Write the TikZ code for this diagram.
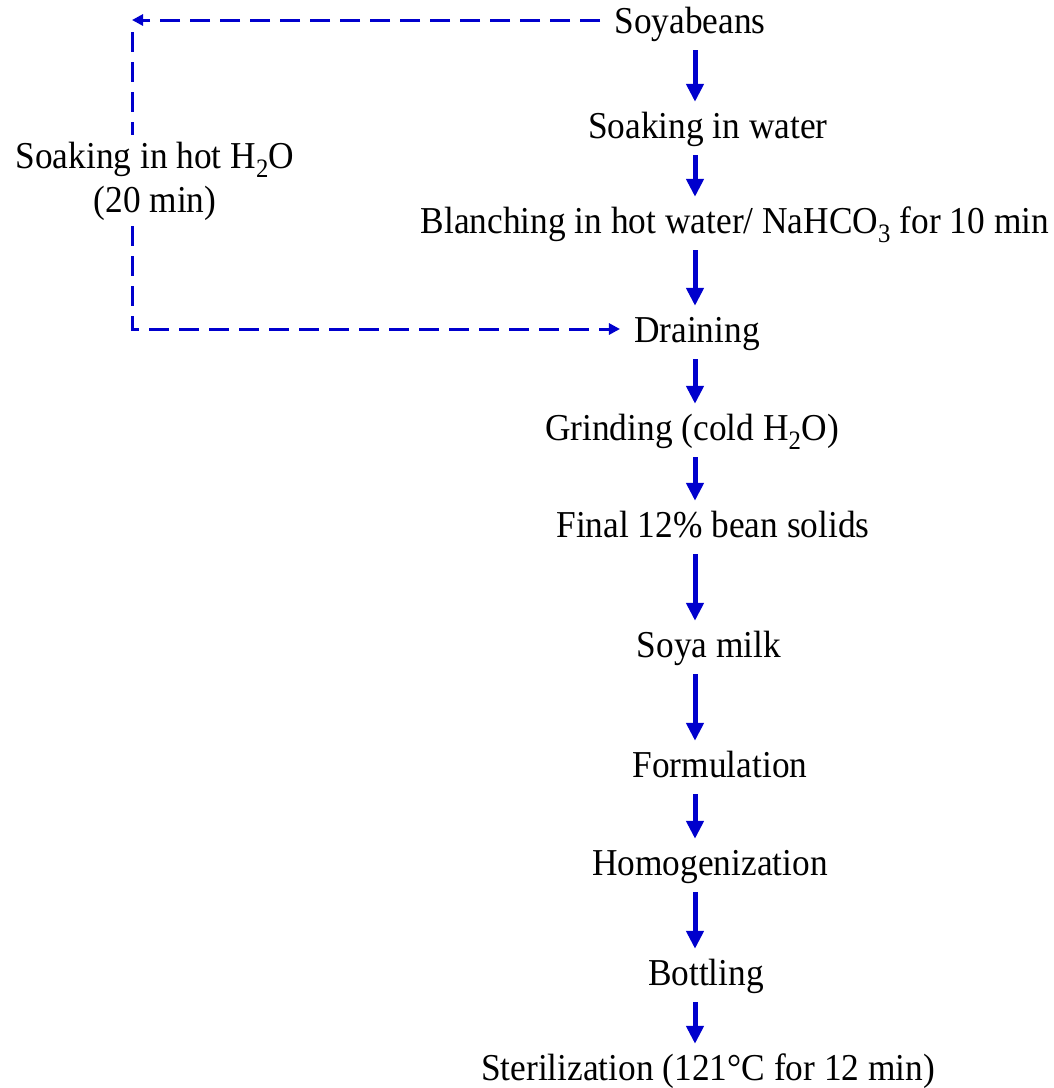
\documentclass[tikz,border=0pt]{standalone}
\usepackage{fontspec}
\setmainfont[FakeStretch=0.93]{Liberation Serif}
\usetikzlibrary{arrows.meta,positioning,calc}
\definecolor{flow blue}{RGB}{0,0,205}

\begin{document}
\begin{tikzpicture}[x=1pt,y=1pt,
  step box/.style={font=\fontsize{38}{44}\selectfont,anchor=base,inner sep=6pt,text height=27pt,text depth=8pt},
  flow/.style={draw=flow blue,line width=5pt,-{Triangle[length=18pt,width=17pt]},shorten <=3pt,shorten >=3pt},
  feed/.style={draw=flow blue,line width=3pt,dash pattern=on 20pt off 10pt},
  feed tip/.style={feed,-{Triangle[length=11pt,width=11pt]}},
]
  \useasboundingbox (0,0) rectangle (1054,-1088);

  \node[step box] (soy) at (690,-33) {Soyabeans};
  \node[step box] (soak) at (708,-138) {Soaking in water};
  \node[step box] (blanch) at (735,-233) {Blanching in hot water/ NaHCO\textsubscript{3} for 10 min};
  \node[step box] (drain) at (697,-342) {Draining};
  \node[step box] (grind) at (692,-440) {Grinding (cold H\textsubscript{2}O)};
  \node[step box] (solids) at (713,-537) {Final 12\% bean solids};
  \node[step box] (milk) at (709,-657) {Soya milk};
  \node[step box] (form) at (720,-777) {Formulation};
  \node[step box] (homog) at (710,-875) {Homogenization};
  \node[step box] (bottle) at (706,-985) {Bottling};
  \node[step box] (steril) at (708,-1080) {Sterilization (121°C for 12 min)};

  \node[step box,align=center,text height=,text depth=] (hot) at (155,-212) {Soaking in hot H\textsubscript{2}O\\(20 min)};

  \coordinate (spine) at (695,0);
  \coordinate (tl) at (132,-20);
  \coordinate (tl2) at (132,-32);
  \coordinate (bl) at (132,-329);

  % main line
  \foreach \a/\b in {soy/soak,soak/blanch,blanch/drain,drain/grind,grind/solids,
                     solids/milk,milk/form,form/homog,homog/bottle,bottle/steril}
    \draw[flow] (\a.south -| spine) -- (\b.north -| spine);

  % hot water route
  \draw[feed tip,shorten <=8pt] (soy.west |- tl) -- (tl);
  \draw[feed] (tl2) -- (hot.north -| tl2);
  \draw[feed tip,shorten >=8pt] (hot.south -| bl) -- (bl) -- (drain.west |- bl);
\end{tikzpicture}
\end{document}
